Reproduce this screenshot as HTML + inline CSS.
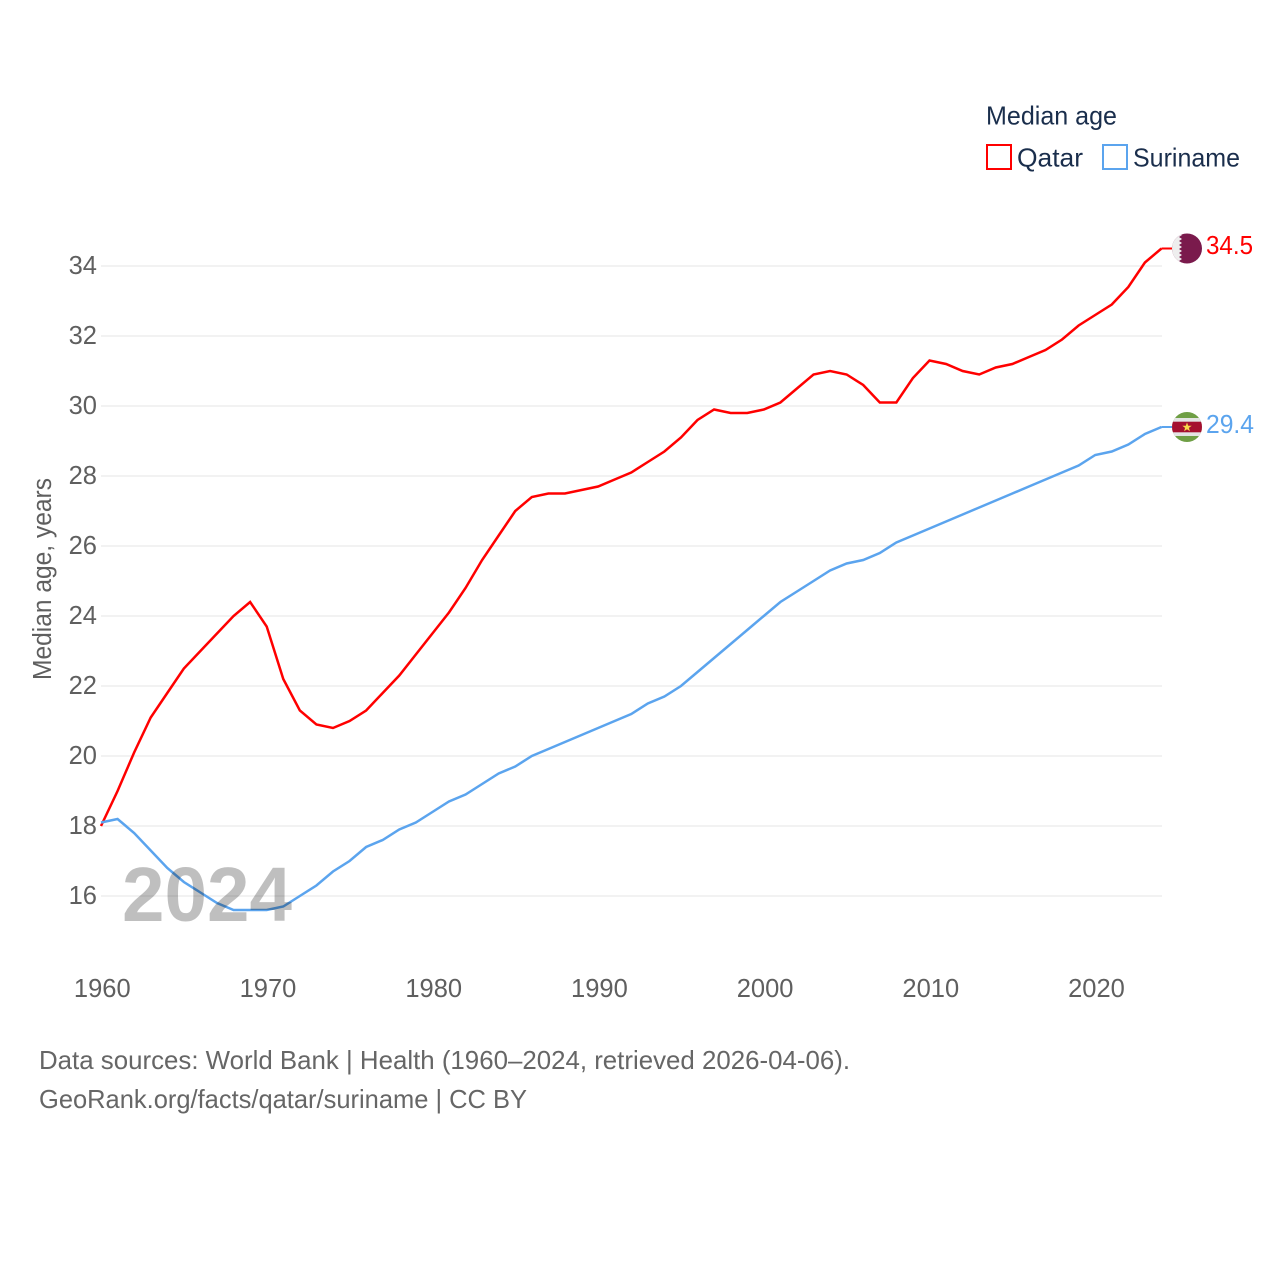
<!DOCTYPE html>
<html lang="en">
<head>
<meta charset="utf-8">
<title>Median age: Qatar and Suriname</title>
<style>
html,body{margin:0;padding:0;background:#fff;}
svg{display:block;}
text{font-family:"Liberation Sans",sans-serif;}
</style>
</head>
<body>
<svg id="chart" xmlns="http://www.w3.org/2000/svg" width="1280" height="1280" viewBox="0 0 1280 1280">
  <rect x="0" y="0" width="1280" height="1280" fill="#fff"/>
  <g id="grid"></g>
  <g id="yticks"></g>
  <g id="xticks"></g>
  <text transform="translate(51,680) rotate(-90)" font-size="25.5" fill="#5f5f5f" textLength="202" lengthAdjust="spacingAndGlyphs">Median age, years</text>
  <g id="series"></g>
  <text x="122" y="921" font-size="77" font-weight="bold" fill="#000" fill-opacity="0.25" textLength="170" lengthAdjust="spacingAndGlyphs">2024</text>

  <text x="986" y="124.500" font-size="26" fill="#1a2e4c" textLength="131" lengthAdjust="spacingAndGlyphs">Median age</text>
  <rect x="987" y="145" width="24" height="24" fill="#fff" stroke="#ff0000" stroke-width="2"/>
  <text x="1017" y="166.500" font-size="26" fill="#1a2e4c" textLength="66" lengthAdjust="spacingAndGlyphs">Qatar</text>
  <rect x="1103" y="145" width="24" height="24" fill="#fff" stroke="#5ba4ee" stroke-width="2"/>
  <text x="1133" y="166.500" font-size="26" fill="#1a2e4c" textLength="107" lengthAdjust="spacingAndGlyphs">Suriname</text>

  <defs>
    <clipPath id="clip-q"><circle id="clip-q-c" cx="1187" cy="248.500" r="15"/></clipPath>
    <clipPath id="clip-s"><circle id="clip-s-c" cx="1187" cy="427" r="15"/></clipPath>
  </defs>
  <g id="flag-qatar" clip-path="url(#clip-q)">
    <rect x="1172" y="233" width="30" height="31" fill="#7a1a4c"/>
    <path d="M1172 233H1179L1182 235L1179 237L1182 239L1179 241L1182 243L1179 245L1182 247L1179 249L1182 251L1179 253L1182 255L1179 257L1182 259L1179 261L1182 263L1179 264H1172Z" fill="#eeeeee"/>
  </g>
  <g id="flag-suriname" clip-path="url(#clip-s)">
    <rect x="1172" y="412" width="30" height="30" fill="#6f9f45"/>
    <rect x="1172" y="418" width="30" height="18" fill="#e4e4e4"/>
    <rect x="1172" y="421.700" width="30" height="10.600" fill="#a5102f"/>
    <polygon points="1187,422.500 1188.200,425.800 1191.700,425.800 1188.900,427.900 1189.900,431.300 1187,429.300 1184.100,431.300 1185.100,427.900 1182.300,425.800 1185.800,425.800" fill="#f7d94a"/>
  </g>
  <text id="end-qatar" x="1206" y="254" font-size="26" fill="#ff0000" textLength="47" lengthAdjust="spacingAndGlyphs">34.5</text>
  <text id="end-suriname" x="1206" y="433" font-size="26" fill="#5ba4ee" textLength="48" lengthAdjust="spacingAndGlyphs">29.4</text>

  <text x="39" y="1069" font-size="26" fill="#666" textLength="811" lengthAdjust="spacingAndGlyphs">Data sources: World Bank | Health (1960–2024, retrieved 2026-04-06).</text>
  <text x="39" y="1108" font-size="26" fill="#666" textLength="488" lengthAdjust="spacingAndGlyphs">GeoRank.org/facts/qatar/suriname | CC BY</text>
</svg>
<script>
const startYear = 1960;
const yTickValues = [16, 18, 20, 22, 24, 26, 28, 30, 32, 34];
const xTickValues = [1960, 1970, 1980, 1990, 2000, 2010, 2020];
const qatarValues = [18.0,19.0,20.1,21.1,21.8,22.5,23.0,23.5,24.0,24.4,23.7,22.2,21.3,20.9,20.8,21.0,21.3,21.8,22.3,22.9,23.5,24.1,24.8,25.6,26.3,27.0,27.4,27.5,27.5,27.6,27.7,27.9,28.1,28.4,28.7,29.1,29.6,29.9,29.8,29.8,29.9,30.1,30.5,30.9,31.0,30.9,30.6,30.1,30.1,30.8,31.3,31.2,31.0,30.9,31.1,31.2,31.4,31.6,31.9,32.3,32.6,32.9,33.4,34.1,34.5];
const surinameValues = [18.1,18.2,17.8,17.3,16.8,16.4,16.1,15.8,15.6,15.6,15.6,15.7,16.0,16.3,16.7,17.0,17.4,17.6,17.9,18.1,18.4,18.7,18.9,19.2,19.5,19.7,20.0,20.2,20.4,20.6,20.8,21.0,21.2,21.5,21.7,22.0,22.4,22.8,23.2,23.6,24.0,24.4,24.7,25.0,25.3,25.5,25.6,25.8,26.1,26.3,26.5,26.7,26.9,27.1,27.3,27.5,27.7,27.9,28.1,28.3,28.6,28.7,28.9,29.2,29.4];

const SVG_NS = 'http://www.w3.org/2000/svg';
function xScale(year) { return 101 + (year - 1960) * 16.57; }
function yScale(value) { return 896 - (value - 16) * 35; }

const gridGroup = document.getElementById('grid');
const yGroup = document.getElementById('yticks');
const xGroup = document.getElementById('xticks');
const seriesGroup = document.getElementById('series');

yTickValues.forEach(function (v) {
  const line = document.createElementNS(SVG_NS, 'line');
  
  
  line.setAttribute('x1', 101);
  line.setAttribute('x2', 1162);
  line.setAttribute('y1', yScale(v));
  line.setAttribute('y2', yScale(v));
  line.setAttribute('stroke', '#eeeeee');
  line.setAttribute('stroke-width', '1.500');
  gridGroup.appendChild(line);

  const label = document.createElementNS(SVG_NS, 'text');
  
  
  label.setAttribute('x', 97);
  label.setAttribute('y', yScale(v) + 8);
  label.setAttribute('text-anchor', 'end');
  label.setAttribute('font-size', '25.5');
  label.setAttribute('fill', '#5f5f5f');
  label.textContent = String(v);
  yGroup.appendChild(label);
});

xTickValues.forEach(function (year) {
  const label = document.createElementNS(SVG_NS, 'text');
  
  
  label.setAttribute('x', xScale(year) + 1.300);
  label.setAttribute('y', 997);
  label.setAttribute('text-anchor', 'middle');
  label.setAttribute('font-size', '25.5');
  label.setAttribute('fill', '#5f5f5f');
  label.textContent = String(year);
  xGroup.appendChild(label);
});

function pathFor(values) {
  return values.map(function (v, i) {
    return (i === 0 ? 'M' : 'L') + xScale(startYear + i).toFixed(2) + ' ' + yScale(v).toFixed(2);
  }).join('');
}

function lastY(values) { return yScale(values[values.length - 1]); }

const qatarLine = document.createElementNS(SVG_NS, 'path');


qatarLine.setAttribute('d', pathFor(qatarValues));
qatarLine.setAttribute('fill', 'none');
qatarLine.setAttribute('stroke', '#ff0000');
qatarLine.setAttribute('stroke-width', '2.500');
seriesGroup.appendChild(qatarLine);

const surinameLine = document.createElementNS(SVG_NS, 'path');


surinameLine.setAttribute('d', pathFor(surinameValues));
surinameLine.setAttribute('fill', 'none');
surinameLine.setAttribute('stroke', '#5ba4ee');
surinameLine.setAttribute('stroke-width', '2.500');
seriesGroup.appendChild(surinameLine);

const qatarConnector = document.createElementNS(SVG_NS, 'line');


qatarConnector.setAttribute('x1', xScale(2024));
qatarConnector.setAttribute('x2', 1172);
qatarConnector.setAttribute('y1', lastY(qatarValues));
qatarConnector.setAttribute('y2', lastY(qatarValues));
qatarConnector.setAttribute('stroke', '#ff0000');
qatarConnector.setAttribute('stroke-width', '2');
seriesGroup.appendChild(qatarConnector);

const surinameConnector = document.createElementNS(SVG_NS, 'line');


surinameConnector.setAttribute('x1', xScale(2024));
surinameConnector.setAttribute('x2', 1172);
surinameConnector.setAttribute('y1', lastY(surinameValues));
surinameConnector.setAttribute('y2', lastY(surinameValues));
surinameConnector.setAttribute('stroke', '#5ba4ee');
surinameConnector.setAttribute('stroke-width', '2');
seriesGroup.appendChild(surinameConnector);

document.getElementById('end-qatar').textContent = qatarValues[qatarValues.length - 1].toFixed(1);
document.getElementById('end-suriname').textContent = surinameValues[surinameValues.length - 1].toFixed(1);
</script>
</body>
</html>
